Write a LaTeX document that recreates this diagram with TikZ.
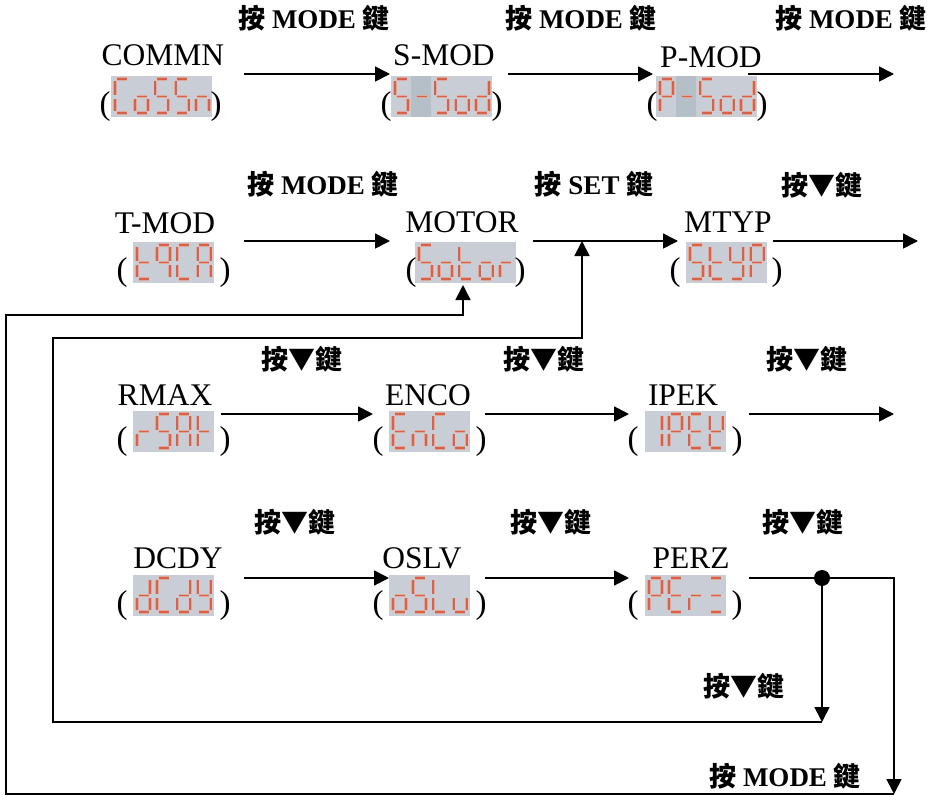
\documentclass[tikz,border=0pt]{standalone}
\usepackage{fontspec}
\setmainfont{Liberation Serif}
\newfontfamily\cjk{Noto Sans CJK TC}
\usetikzlibrary{arrows.meta}
\definecolor{lcdbg}{HTML}{C9CED6}
\definecolor{lcddark}{HTML}{B4BFC8}
\definecolor{seghalo}{HTML}{E2A797}
\definecolor{segcore}{HTML}{D8614A}
% segments of one digit, in a cell 20.2 wide and 41 high
\def\sgA{(5.5,3)--(15.5,3) }
\def\sgB{(17,5)--(17,18.5) }
\def\sgC{(17,23)--(17,35) }
\def\sgD{(5.5,37)--(15.5,37) }
\def\sgE{(4,23)--(4,35) }
\def\sgF{(4,5)--(4,18.5) }
\def\sgG{(5.5,20.5)--(15.5,20.5) }
\def\dgSS{\sgA\sgF\sgG\sgC\sgD}
\def\dgCC{\sgA\sgF\sgE\sgD}
\def\dgO{\sgG\sgC\sgD\sgE}
\def\dgN{\sgE\sgG\sgC}
\def\dgDash{\sgG}
\def\dgD{\sgB\sgC\sgD\sgE\sgG}
\def\dgP{\sgA\sgB\sgF\sgG\sgE}
\def\dgT{\sgF\sgG\sgE\sgD}
\def\dgNine{\sgA\sgB\sgC\sgF\sgG}
\def\dgA{\sgA\sgB\sgC\sgE\sgF\sgG}
\def\dgR{\sgE\sgG}
\def\dgY{\sgF\sgB\sgG\sgC\sgD}
\def\dgH{\sgF\sgE\sgG}
\def\dgE{\sgA\sgF\sgG\sgE\sgD}
\def\dgI{\sgB\sgC}
\def\dgK{\sgF\sgB\sgG\sgE\sgD}
\def\dgL{\sgF\sgE\sgD}
\def\dgU{\sgE\sgD\sgC}
\def\dgZ{\sgA\sgG\sgD}
\def\darkcell{}
% name, label x, label baseline, box left, box top, box width, ( x, ) x, digits
\newcommand\lcdunit[9]{%
  \node[lcdbox,minimum width=#6pt] (#1box) at (#4,#5) {};
  \darkcell
  \node[titletext] (#1) at (#2,#3) {#1};
  \node[paren] (#1open) at (#7,#5+31) {(};
  \node[paren] (#1close) at (#8,#5+31) {)};
  \foreach \dg [count=\n from 0] in {#9}{
    \draw[seghalo,line width=3.6pt,shift={(#4+\n*20.2,#5)}] \dg;
    \draw[segcore,line width=1.9pt,shift={(#4+\n*20.2,#5)}] \dg;
  }
}
\tikzset{
  lcdbox/.style={fill=lcdbg,draw=none,inner sep=0pt,minimum height=41pt,anchor=north west},
  titletext/.style={font=\fontsize{31.5}{31.5}\selectfont,anchor=base,inner sep=0pt,text=black},
  paren/.style={font=\fontsize{33}{33}\selectfont,inner sep=0pt,text=black},
  keytext/.style={font=\fontsize{27}{27}\selectfont\bfseries,anchor=base,inner sep=0pt},
  conn/.style={line width=1.7pt,black},
  arr/.style={conn,-{Triangle[length=15pt,width=15pt]}},
  junction/.style={circle,fill=black,inner sep=0pt,minimum size=16pt},
}
\newcommand\modekey{{\cjk 按} MODE {\cjk 鍵}}
\newcommand\setkey{{\cjk 按} SET {\cjk 鍵}}
\newcommand\downkey{{\cjk 按▼鍵}}
\begin{document}
\begin{tikzpicture}[x=1pt,y=-1pt]
\useasboundingbox (0,0) rectangle (935,795);
\fill[white] (0,0) rectangle (935,795);
% row 1
\lcdunit{COMMN}{163}{65}{111}{76}{101}{105}{216}{\dgCC,\dgO,\dgSS,\dgSS,\dgN}
\def\darkcell{\fill[lcddark] (411.2,76) rectangle (431.4,117);}
\lcdunit{S-MOD}{444}{65}{391}{76}{101}{386}{497}{\dgSS,\dgDash,\dgSS,\dgO,\dgD}
\def\darkcell{\fill[lcddark] (676.2,76) rectangle (696.4,117);}
\lcdunit{P-MOD}{711}{67}{656}{76}{101}{652}{762}{\dgP,\dgDash,\dgSS,\dgO,\dgD}
\def\darkcell{}
% row 2
\lcdunit{T-MOD}{165}{233}{133}{242}{81}{122}{225}{\dgT,\dgNine,\dgCC,\dgA}
\lcdunit{MOTOR}{462}{232}{415}{242}{101}{411}{520}{\dgSS,\dgO,\dgT,\dgO,\dgR}
\lcdunit{MTYP}{728}{232}{686}{242}{81}{675}{777}{\dgSS,\dgT,\dgY,\dgP}
% row 3
\lcdunit{RMAX}{165}{405}{133}{411}{81}{122}{225}{\dgR,\dgSS,\dgA,\dgH}
\lcdunit{ENCO}{428}{405}{389}{411}{81}{378}{481}{\dgE,\dgN,\dgCC,\dgO}
\lcdunit{IPEK}{683}{405}{645}{411}{81}{633}{737}{\dgI,\dgP,\dgE,\dgK}
% row 4
\lcdunit{DCDY}{178}{568}{133}{575}{81}{122}{225}{\dgD,\dgCC,\dgD,\dgY}
\lcdunit{OSLV}{422}{568}{389}{575}{81}{378}{481}{\dgO,\dgSS,\dgL,\dgU}
\lcdunit{PERZ}{691}{568}{645}{575}{81}{633}{737}{\dgP,\dgE,\dgR,\dgZ}
% key labels
\node[keytext] (k1) at (314,28.5) {\modekey};
\node[keytext] (k2) at (581,28.5) {\modekey};
\node[keytext] (k3) at (851,28.5) {\modekey};
\node[keytext] (k4) at (323,194.5) {\modekey};
\node[keytext] (k5) at (594,194.5) {\setkey};
\node[keytext] (k6) at (822,195) {\downkey};
\node[keytext] (k7) at (302,369) {\downkey};
\node[keytext] (k8) at (544,369) {\downkey};
\node[keytext] (k9) at (807,369) {\downkey};
\node[keytext] (k10) at (295,532) {\downkey};
\node[keytext] (k11) at (551,532) {\downkey};
\node[keytext] (k12) at (803,532) {\downkey};
\node[keytext] (k13) at (744,696) {\downkey};
\node[keytext] (k14) at (785,786) {\modekey};
% connector ends
\coordinate (a1s) at (244,74);  \coordinate (a1e) at (390,74);
\coordinate (a2s) at (508,74);  \coordinate (a2e) at (653,74);
\coordinate (a3s) at (748,74);  \coordinate (a3e) at (894,74);
\coordinate (b1s) at (244,241); \coordinate (b1e) at (390,241);
\coordinate (b2s) at (533,241); \coordinate (b2e) at (678,241);
\coordinate (b3s) at (773,241); \coordinate (b3e) at (918,241);
\coordinate (c1s) at (221,414); \coordinate (c1e) at (373,414);
\coordinate (c2s) at (485,414); \coordinate (c2e) at (629,414);
\coordinate (c3s) at (749,414); \coordinate (c3e) at (894,414);
\coordinate (d1s) at (244,578); \coordinate (d1e) at (389,578);
\coordinate (d2s) at (485,578); \coordinate (d2e) at (629,578);
\coordinate (d3s) at (749,578);
\node[junction] (dot) at (822,578) {};
\coordinate (setin) at (582,241);
\coordinate (motorin) at (463,285);
\coordinate (loopa) at (822,722);
\coordinate (loopb) at (894,794);
% connectors
\foreach \u/\v in {a1s/a1e,a2s/a2e,a3s/a3e,b1s/b1e,b2s/b2e,b3s/b3e,c1s/c1e,c2s/c2e,c3s/c3e,d1s/d1e,d2s/d2e}
  \draw[arr] (\u) -- (\v);
\draw[conn] (d3s) -- (dot);
\draw[arr] (dot) -| (loopb);
\draw[arr] (dot) -- (loopa);
\draw[arr] (loopa) -- (53,722) -- (53,338) -- (582,338) -- (setin);
\draw[arr] (loopb) -- (6,794) -- (6,315) -- (463,315) -- (motorin);
\end{tikzpicture}
\end{document}
